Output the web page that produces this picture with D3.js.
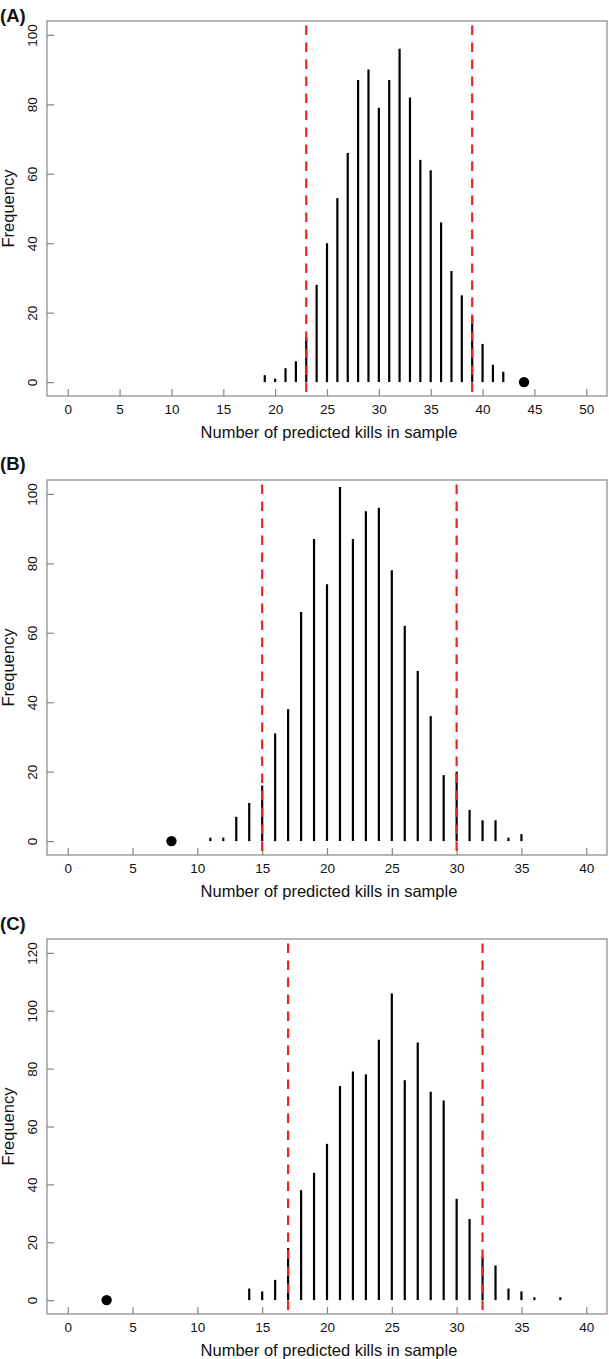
<!DOCTYPE html>
<html>
<head>
<meta charset="utf-8">
<script src="https://cdn.jsdelivr.net/npm/d3@7"></script>
<style>
  html, body { margin: 0; padding: 0; background: #fff; }
  svg { display: block; }
  text { font-family: "Liberation Sans", Arial, Helvetica, sans-serif; }
</style>
</head>
<body>
<svg id="chart" width="609" height="1359"></svg>
<script>
// ---------- data ----------
const panelLabels = ["(A)", "(B)", "(C)"];
const xTitle = "Number of predicted kills in sample";
const yTitle = "Frequency";

const killsA = [19,20,21,22,23,24,25,26,27,28,29,30,31,32,33,34,35,36,37,38,39,40,41,42];
const freqA  = [2,1,4,6,13,28,40,53,66,87,90,79,87,96,82,64,61,46,32,25,19,11,5,3];
const ciA    = [23, 39];
const obsA   = 44;
const xTicksA = [0,5,10,15,20,25,30,35,40,45,50];
const yTicksA = [0,20,40,60,80,100];

const killsB = [11,12,13,14,15,16,17,18,19,20,21,22,23,24,25,26,27,28,29,30,31,32,33,34,35];
const freqB  = [1,1,7,11,16,31,38,66,87,74,102,87,95,96,78,62,49,36,19,20,9,6,6,1,2];
const ciB    = [15, 30];
const obsB   = 8;
const xTicksB = [0,5,10,15,20,25,30,35,40];
const yTicksB = [0,20,40,60,80,100];

const killsC = [14,15,16,17,18,19,20,21,22,23,24,25,26,27,28,29,30,31,32,33,34,35,36,38];
const freqC  = [4,3,7,18,38,44,54,74,79,78,90,106,76,89,72,69,35,28,15,12,4,3,1,1];
const ciC    = [17, 32];
const obsC   = 3;
const xTicksC = [0,5,10,15,20,25,30,35,40];
const yTicksC = [0,20,40,60,80,100,120];

const panels = [
  {label: panelLabels[0], kills: killsA, freq: freqA, ci: ciA, obs: obsA, xlim: [0,50], ylim: [0,100], xTicks: xTicksA, yTicks: yTicksA, top: 21,  labelY: 22},
  {label: panelLabels[1], kills: killsB, freq: freqB, ci: ciB, obs: obsB, xlim: [0,40], ylim: [0,100], xTicks: xTicksB, yTicks: yTicksB, top: 480, labelY: 470},
  {label: panelLabels[2], kills: killsC, freq: freqC, ci: ciC, obs: obsC, xlim: [0,40], ylim: [0,120], xTicks: xTicksC, yTicks: yTicksC, top: 939, labelY: 930}
];

// ---------- layout ----------
const svg = d3.select("#chart");
const left = 47, right = 607, boxH = 375;
const axisColor = "#858585";
const red = "#e8261f";
const tickFont = 13.5, titleFont = 16.5;

function ext(lim) { const d = (lim[1] - lim[0]) * 0.04; return [lim[0] - d, lim[1] + d]; }

panels.forEach(p => {
  const top = p.top, bottom = p.top + boxH;
  const x = d3.scaleLinear().domain(ext(p.xlim)).range([left, right]);
  const y = d3.scaleLinear().domain(ext(p.ylim)).range([bottom, top]);
  const g = svg.append("g");

  // panel label
  g.append("text").attr("x", 0).attr("y", p.labelY)
    .attr("font-size", 18.5).attr("font-weight", "bold").attr("fill", "#111")
    .text(p.label);

  // box
  g.append("rect").attr("x", left).attr("y", top).attr("width", right - left).attr("height", boxH)
    .attr("fill", "none").attr("stroke", axisColor).attr("stroke-width", 1.2);

  // x axis (inward ticks)
  const xa = g.append("g").attr("transform", `translate(0,${bottom})`)
    .call(d3.axisBottom(x).tickValues(p.xTicks).tickSize(-7).tickPadding(8.5).tickFormat(d3.format("d")));
  xa.select(".domain").remove();
  xa.selectAll(".tick line").attr("stroke", axisColor).attr("stroke-width", 1.2);
  xa.selectAll(".tick text").attr("font-size", tickFont).attr("fill", "#111")
    .style("font-family", '"Liberation Sans", Arial, sans-serif');

  // y axis (inward ticks, rotated labels)
  const ya = g.append("g").attr("transform", `translate(${left},0)`)
    .call(d3.axisLeft(y).tickValues(p.yTicks).tickSize(-7).tickFormat(d3.format("d")));
  ya.select(".domain").remove();
  ya.selectAll(".tick line").attr("stroke", axisColor).attr("stroke-width", 1.2);
  ya.selectAll(".tick text")
    .attr("x", null).attr("dy", null)
    .attr("transform", "translate(-10,0) rotate(-90)")
    .attr("text-anchor", "middle")
    .attr("font-size", tickFont).attr("fill", "#111")
    .style("font-family", '"Liberation Sans", Arial, sans-serif');

  // axis titles
  g.append("text").attr("x", (left + right) / 2 + 2).attr("y", bottom + 42)
    .attr("text-anchor", "middle").attr("font-size", titleFont).attr("fill", "#111")
    .text(xTitle);
  g.append("text")
    .attr("transform", `translate(14,${(top + bottom) / 2}) rotate(-90)`)
    .attr("text-anchor", "middle").attr("font-size", titleFont).attr("fill", "#111")
    .text(yTitle);

  // frequency spikes
  g.selectAll("line.bar").data(p.kills.map((k, i) => ({k, f: p.freq[i]})))
    .enter().append("line").attr("class", "bar")
    .attr("x1", d => x(d.k)).attr("x2", d => x(d.k))
    .attr("y1", y(0)).attr("y2", d => y(d.f))
    .attr("stroke", "#000").attr("stroke-width", 2.2);

  // observed value
  g.append("circle").attr("cx", x(p.obs)).attr("cy", y(0)).attr("r", 5.2).attr("fill", "#000");

  // 95% interval dashed lines
  g.selectAll("line.ci").data(p.ci).enter().append("line").attr("class", "ci")
    .attr("x1", d => x(d)).attr("x2", d => x(d))
    .attr("y1", top).attr("y2", bottom)
    .attr("stroke", red).attr("stroke-width", 2.2)
    .attr("stroke-dasharray", "9.5,7.5").attr("stroke-dashoffset", 12.5);
});
</script>
</body>
</html>
